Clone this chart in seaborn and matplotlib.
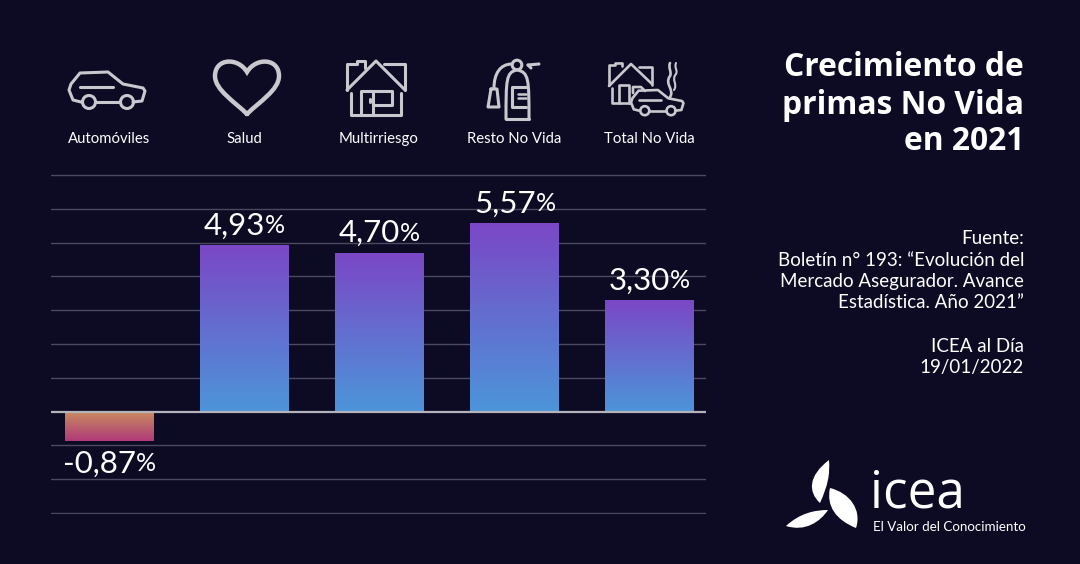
import numpy as np
import matplotlib
matplotlib.use("Agg")
import matplotlib.pyplot as plt
from matplotlib.colors import LinearSegmentedColormap
from matplotlib.patches import Circle, PathPatch
from matplotlib.path import Path
import seaborn as sns

# Data
categories = ["Automóviles", "Salud", "Multirriesgo", "Resto No Vida", "Total No Vida"]
growth = [-0.87, 4.93, 4.70, 5.57, 3.30]
value_labels = ["-0,87", "4,93", "4,70", "5,57", "3,30"]
grid_ticks = [-3, -2, -1, 1, 2, 3, 4, 5, 6, 7]
title_lines = ["Crecimiento de", "primas No Vida", "en 2021"]
source_lines = ["Fuente:", "Boletín n° 193: “Evolución del", "Mercado Asegurador. Avance",
                "Estadística. Año 2021”", "", "ICEA al Día", "19/01/2022"]

BG = "#0d0b24"
ICON = "#c9c8ce"
FONT = "Lato"

sns.set_theme(style="dark", rc={"figure.facecolor": BG, "axes.facecolor": BG, "savefig.facecolor": BG})
plt.rcParams["font.family"] = [FONT, "DejaVu Sans"]

fig = plt.figure(figsize=(10.8, 5.64), dpi=100)

# --- bar chart ---
ax = fig.add_axes([51 / 1080, (564 - 514) / 564, 655 / 1080, 340 / 564])
sns.barplot(x=categories, y=growth, ax=ax, width=0.655, color=BG, saturation=1, linewidth=0)
XLIM = (-0.433, 4.417)
YLIM = (-3.03, 7.03)
ax.set_xlim(*XLIM)
ax.set_ylim(*YLIM)
ax.set_xticks([])
ax.set_yticks([])
for s in ax.spines.values():
    s.set_visible(False)
for t in grid_ticks:
    ax.axhline(t, color="#4b4a61", lw=1, zorder=1)
ax.axhline(0, color="#b4b3ba", lw=1.6, zorder=5)

pos_cmap = LinearSegmentedColormap.from_list("pos", ["#7b47c6", "#4c95d9"])
neg_cmap = LinearSegmentedColormap.from_list("neg", ["#c98c5f", "#b03a79"])
grad = np.linspace(0, 1, 256).reshape(-1, 1)
for bar, val, num in zip(ax.patches, growth, value_labels):
    x0, w = bar.get_x(), bar.get_width()
    # image rows run top to bottom, so both gradients start at the upper edge
    top, bottom = (val, 0) if val > 0 else (0, val)
    ax.imshow(grad, cmap=pos_cmap if val > 0 else neg_cmap, aspect="auto",
              extent=(x0, x0 + w, bottom, top), origin="upper", zorder=3)
    cx = x0 + w / 2
    y_txt = val + 0.58 if val > 0 else val - 0.68
    t1 = ax.text(cx, y_txt, num, color="white", fontsize=22.5, ha="right", va="center", zorder=6)
    t2 = ax.text(cx, y_txt, "%", color="white", fontsize=18, ha="left", va="center", zorder=6)
    # centre number + percent sign as one label
    r = fig.canvas.get_renderer()
    w1 = t1.get_window_extent(r).width
    w2 = t2.get_window_extent(r).width
    shift = (w1 - w2) / 2 / (655 / 4.85)
    t1.set_x(cx + shift)
    t2.set_x(cx + shift)
ax.set_xlim(*XLIM)
ax.set_ylim(*YLIM)

# --- overlay in pixel coordinates for icons and side text ---
ov = fig.add_axes([0, 0, 1, 1], facecolor="none")
ov.set_xlim(0, 1080)
ov.set_ylim(564, 0)
ov.axis("off")


def line(pts, lw=2.2, closed=False):
    pts = list(pts)
    if closed:
        pts = pts + [pts[0]]
    xs, ys = zip(*pts)
    ov.plot(xs, ys, color=ICON, lw=lw, solid_joinstyle="round", solid_capstyle="round")


def curve(verts, lw=2.2, fill=None):
    codes = [Path.MOVETO] + [Path.CURVE4] * (len(verts) - 1)
    ov.add_patch(PathPatch(Path(verts, codes), fc=fill or "none", ec=fill or ICON,
                           lw=0 if fill else lw, capstyle="round"))


def car(ox, oy, k=1.0, lw=2.2):
    def p(x, y):
        return (ox + k * (x - 69), oy + k * (y - 72))
    line([p(*q) for q in [(81, 102), (73, 100), (69, 90), (71, 84), (80, 73), (108, 72),
                          (123, 84), (143, 88), (145, 91), (142, 101), (133, 102)]], lw)
    line([p(95, 102), p(120, 102)], lw)
    line([p(80, 87), p(113, 87)], lw)
    for cx in (89, 127):
        ov.add_patch(Circle(p(cx, 102), 6.5 * k, fc="none", ec=ICON, lw=lw))


# automobile
car(69, 72)

# heart
curve([(247, 114), (235, 102), (215, 90), (215, 76),
       (215, 58), (238, 57), (247, 72),
       (256, 57), (279, 58), (279, 76),
       (279, 90), (259, 102), (247, 114)], lw=3.2)

# house
line([(347, 90), (347, 64), (357, 64), (357, 61), (365, 61), (365, 68)])
line([(347, 90), (376, 61), (405, 90)])
line([(384, 64), (405, 64), (405, 90)])
line([(351, 93), (351, 115), (401, 115), (401, 93)])
line([(361, 115), (361, 91), (373, 91), (373, 115)])
line([(373, 91), (392, 91), (392, 105), (373, 105)])
line([(370, 99), (370, 102)])

# extinguisher
curve([(506, 119), (506, 80), (506, 72), (517, 70),
       (529, 72), (529, 80), (529, 119)])
line([(506, 119), (529, 119)])
ov.add_patch(Circle((517, 65), 4.8, fc="none", ec=ICON, lw=2.2))
line([(528, 65), (539, 64)])
line([(528, 65), (531, 68)])
curve([(512, 64), (500, 64), (494, 74), (494, 88)])
line([(491, 89), (497, 89), (499, 107), (488, 107)], closed=True)
line([(526, 87), (512, 87), (512, 107), (526, 107)])
line([(518, 94), (526, 94)], lw=1.8)
line([(518, 98), (526, 98)], lw=1.8)

# total: house, car, smoke
line([(609, 85), (609, 65), (615, 65), (615, 63), (622, 63), (622, 66)], 1.9)
line([(609, 86), (631, 64), (652, 84)], 1.9)
line([(639, 67), (652, 67), (652, 85)], 1.9)
line([(612, 88), (612, 103), (630, 103)], 1.9)
line([(619, 103), (619, 85), (629, 85), (629, 103)], 1.9)
line([(633, 93), (633, 87), (641, 87), (645, 91)], 1.9)
car(631, 90, k=0.69, lw=1.9)
curve([(670, 97), (675, 90), (664, 84), (670, 76), (672, 72), (668, 68), (670, 63)], lw=1.9)
curve([(674, 90), (678, 84), (671, 80), (676, 74), (678, 70), (674, 68), (676, 63)], lw=1.5)

# category labels under the icons
for cx, cat in zip([109, 244, 379, 514, 649], categories):
    ov.text(cx, 139, cat, color="white", fontsize=10.7, ha="center", va="center")

# --- title and source text ---
for y, txt in zip([67, 105, 142], title_lines):
    ov.text(1024, y, txt, color="white", fontsize=22.9, fontweight="bold", family="Open Sans",
            ha="right", va="center")
for y, txt in zip([239, 260, 282, 303, 324, 346, 367], source_lines):
    ov.text(1024, y, txt, color="white", fontsize=13.5, ha="right", va="center")

# --- logo ---
curve([(829, 460), (808, 476), (808, 492), (820, 503),
       (828, 485), (830, 475), (829, 460)], fill="white")
curve([(830, 488), (850, 493), (862, 510), (856, 528),
       (836, 520), (826, 506), (830, 488)], fill="white")
curve([(786, 526), (800, 513), (815, 510), (828, 510),
       (820, 522), (805, 532), (786, 526)], fill="white")
ov.text(870, 507, "icea", color="white", fontsize=37, family="Open Sans", ha="left", va="baseline")
ov.text(873, 531, "El Valor del Conocimiento", color="white", fontsize=9.6, ha="left", va="baseline")

fig.savefig("out.png", dpi=100, facecolor=BG)
